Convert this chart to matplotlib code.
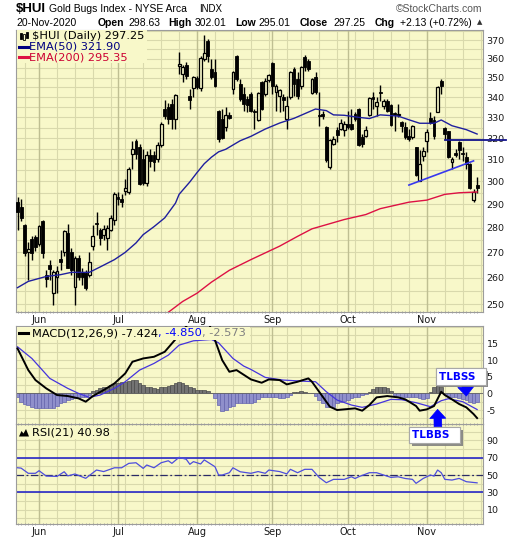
import numpy as np
import pandas as pd
import matplotlib
matplotlib.use("Agg")
import matplotlib.pyplot as plt
import matplotlib.patheffects as pe
from matplotlib.lines import Line2D
from matplotlib.patches import Rectangle, Polygon
from matplotlib.ticker import FixedLocator, FuncFormatter, NullLocator, NullFormatter

# ---------------------------------------------------------------- sessions
market_holidays = ["2020-05-25", "2020-07-03", "2020-09-07"]
dates = pd.bdate_range("2020-05-21", "2020-11-20", freq="C", holidays=market_holidays)

# ---------------------------------------------------------------- $HUI daily OHLC
opens = [290.8, 288.7, 281.0, 270.3, 275.6, 276.4, 273.5, 282.7, 261.2, 265.1,
         254.3, 260.4, 267.5, 270.3, 278.0, 270.3, 256.5, 267.9, 262.3, 261.9,
         261.2, 272.7, 282.2, 279.3, 277.2, 276.0, 279.3, 283.1, 293.0, 292.1,
         295.6, 295.2, 312.4, 318.5, 315.6, 310.1, 299.2, 311.9, 311.9, 310.1,
         316.6, 334.1, 335.1, 336.6, 329.2, 356.2, 352.0, 356.7, 340.6, 344.7,
         349.9, 344.7, 360.0, 369.8, 354.6, 353.0, 333.1, 329.2, 325.3, 331.1,
         344.2, 361.6, 346.8, 341.7, 339.1, 341.7, 333.1, 328.7, 347.8, 341.7,
         348.9, 357.8, 342.7, 340.6, 340.1, 329.2, 340.1, 354.6, 349.4, 345.7,
         361.1, 358.9, 342.2, 350.4, 331.1, 331.6, 325.3, 306.4, 317.1, 323.8,
         324.3, 323.8, 326.7, 326.7, 331.6, 334.1, 320.5, 320.9, 331.1, 340.1,
         335.6, 342.7, 335.6, 338.1, 336.1, 332.1, 331.1, 327.7, 325.3, 320.9,
         320.5, 315.6, 300.1, 311.5, 318.5, 329.7, 328.7, 332.6, 348.4, 324.8,
         323.4, 308.7, 312.8, 318.0, 312.8, 311.0, 307.8, 291.7, 298.63]
highs = [293.0, 292.1, 281.8, 274.0, 276.8, 277.2, 281.4, 283.5, 263.1, 267.1,
         263.1, 264.7, 271.1, 279.3, 281.8, 271.9, 268.7, 269.1, 263.9, 263.1,
         270.3, 281.4, 286.5, 280.1, 281.4, 281.0, 285.6, 295.2, 295.2, 294.3,
         301.0, 306.4, 318.5, 319.5, 317.1, 314.7, 313.7, 314.7, 313.7, 318.0,
         327.7, 338.6, 337.1, 339.1, 341.7, 363.8, 356.7, 358.4, 344.2, 350.9,
         350.9, 361.7, 373.1, 370.9, 360.0, 360.0, 333.6, 334.1, 335.1, 332.6,
         353.5, 362.2, 349.4, 345.2, 340.6, 342.7, 334.1, 342.7, 348.4, 349.9,
         352.0, 358.4, 346.8, 344.2, 341.7, 340.6, 353.5, 355.7, 353.0, 356.2,
         362.2, 360.0, 349.9, 353.0, 342.7, 333.1, 325.8, 319.5, 320.9, 325.3,
         329.2, 328.2, 333.1, 334.1, 332.6, 334.6, 321.9, 325.8, 340.1, 342.7,
         340.1, 346.3, 339.1, 339.1, 336.6, 332.6, 336.6, 328.2, 327.7, 324.3,
         326.2, 315.6, 314.2, 315.6, 324.3, 332.6, 330.6, 345.7, 349.4, 325.3,
         323.4, 311.0, 314.7, 318.5, 315.6, 313.3, 308.2, 296.5, 302.01]
lows = [279.3, 282.7, 268.7, 259.2, 267.1, 270.7, 272.7, 267.9, 256.5, 259.2,
        249.7, 254.3, 263.1, 268.7, 263.9, 261.2, 249.7, 259.2, 257.3, 255.4,
        260.4, 271.1, 277.2, 273.1, 275.2, 271.1, 278.5, 281.4, 289.9, 288.7,
        293.9, 294.3, 305.5, 310.1, 298.4, 298.4, 297.9, 306.4, 304.6, 308.7,
        315.6, 329.2, 326.7, 324.3, 324.3, 352.0, 347.8, 349.4, 334.1, 340.1,
        344.2, 343.2, 358.9, 358.4, 349.4, 345.2, 318.0, 319.5, 323.4, 329.2,
        341.7, 348.4, 338.1, 333.1, 332.6, 332.6, 324.3, 328.2, 333.6, 340.6,
        347.8, 341.7, 333.1, 332.6, 333.1, 324.3, 339.1, 340.6, 339.1, 344.2,
        353.5, 353.5, 341.7, 341.7, 325.8, 329.2, 308.7, 305.5, 316.6, 318.0,
        323.8, 320.9, 324.3, 323.8, 328.2, 316.2, 315.6, 320.5, 330.6, 334.1,
        330.6, 338.1, 334.1, 332.6, 325.8, 323.4, 330.1, 322.9, 319.5, 318.5,
        319.5, 302.3, 300.1, 309.2, 313.3, 326.7, 319.5, 332.6, 341.7, 319.5,
        310.5, 305.5, 311.0, 310.1, 309.2, 305.5, 296.5, 290.8, 295.01]
closes = [286.5, 284.3, 269.9, 271.5, 269.9, 272.3, 280.6, 269.9, 259.6, 263.5,
          262.3, 262.7, 266.3, 278.5, 263.9, 263.1, 267.9, 260.4, 260.4, 256.1,
          266.3, 276.8, 281.8, 276.0, 279.7, 280.1, 284.3, 294.3, 292.1, 290.8,
          297.0, 305.5, 314.7, 312.4, 298.8, 299.2, 311.9, 309.2, 308.7, 316.6,
          326.7, 330.6, 329.2, 329.2, 341.2, 357.3, 355.7, 351.0, 338.6, 350.4,
          345.2, 360.5, 363.2, 361.6, 350.4, 345.7, 319.5, 320.0, 331.1, 329.7,
          353.0, 349.4, 339.1, 336.6, 336.1, 333.1, 332.6, 342.2, 334.1, 348.4,
          351.5, 345.7, 345.7, 343.7, 338.6, 335.6, 353.0, 346.8, 340.6, 355.7,
          355.7, 354.6, 349.4, 342.7, 330.6, 330.6, 309.6, 319.0, 319.5, 321.4,
          327.2, 326.7, 325.3, 324.3, 329.2, 316.6, 317.1, 323.8, 339.6, 339.1,
          337.6, 342.2, 338.1, 333.1, 326.2, 331.1, 331.6, 325.8, 320.5, 319.5,
          325.8, 302.7, 307.8, 313.7, 322.9, 327.2, 320.9, 345.2, 345.7, 321.9,
          311.0, 310.1, 311.9, 314.2, 312.4, 307.8, 297.0, 295.12, 297.25]

# ---------------------------------------------------------------- moving averages
ema50_dates = ["2020-05-21", "2020-05-27", "2020-06-03", "2020-06-09", "2020-06-12",
               "2020-06-19", "2020-06-24", "2020-06-30", "2020-07-06", "2020-07-09",
               "2020-07-13", "2020-07-16", "2020-07-21", "2020-07-24", "2020-07-27",
               "2020-07-30", "2020-08-03", "2020-08-05", "2020-08-07", "2020-08-11",
               "2020-08-13", "2020-08-19", "2020-08-24", "2020-08-28", "2020-09-03",
               "2020-09-10", "2020-09-18", "2020-09-23", "2020-09-25", "2020-09-30",
               "2020-10-06", "2020-10-09", "2020-10-14", "2020-10-21", "2020-10-26",
               "2020-10-29", "2020-11-04", "2020-11-06", "2020-11-11", "2020-11-17",
               "2020-11-20"]
ema50_vals = [256.2, 258.6, 260.5, 261.2, 262.1, 262.1, 264.2, 267.1, 270.0, 273.8,
              277.2, 280.5, 284.2, 290.5, 294.3, 299.8, 304.0, 308.0, 311.0, 313.5,
              314.7, 318.7, 320.8, 324.3, 327.2, 329.5, 334.1, 333.3, 331.2, 331.0,
              330.0, 329.4, 331.2, 330.6, 328.8, 327.1, 327.1, 328.7, 325.9, 324.0,
              321.90]

ema200_dates = ["2020-07-22", "2020-07-28", "2020-08-03", "2020-08-07", "2020-08-14",
                "2020-08-24", "2020-09-03", "2020-09-11", "2020-09-17", "2020-09-30",
                "2020-10-08", "2020-10-14", "2020-10-26", "2020-11-02", "2020-11-09",
                "2020-11-13", "2020-11-20"]
ema200_vals = [247.0, 251.0, 254.1, 258.3, 262.9, 267.1, 272.5, 276.5, 279.6, 283.5,
               285.6, 288.1, 290.9, 291.8, 294.3, 295.0, 295.35]

# drawn trend lines
support_dates = ["2020-10-26", "2020-11-19"]
support_vals = [298.4, 309.3]
resistance_from = "2020-11-09"
resistance_level = 319.0

# ---------------------------------------------------------------- MACD(12,26,9)
macd_dates = ["2020-05-21", "2020-05-27", "2020-05-29", "2020-06-03", "2020-06-08",
              "2020-06-11", "2020-06-16", "2020-06-18", "2020-06-22", "2020-06-25",
              "2020-06-30", "2020-07-06", "2020-07-08", "2020-07-13", "2020-07-16",
              "2020-07-21", "2020-07-23", "2020-07-27", "2020-07-30", "2020-08-04",
              "2020-08-06", "2020-08-10", "2020-08-12", "2020-08-14", "2020-08-18",
              "2020-08-24", "2020-08-27", "2020-08-31", "2020-09-03", "2020-09-08",
              "2020-09-11", "2020-09-16", "2020-09-17", "2020-09-22", "2020-09-24",
              "2020-09-28", "2020-10-01", "2020-10-05", "2020-10-07", "2020-10-09",
              "2020-10-13", "2020-10-16", "2020-10-21", "2020-10-23", "2020-10-28",
              "2020-10-29", "2020-11-02", "2020-11-04", "2020-11-06", "2020-11-09",
              "2020-11-11", "2020-11-13", "2020-11-17", "2020-11-19", "2020-11-20"]
macd_vals = [13.5, 7.0, 4.0, 1.5, -0.5, -0.8, -1.5, -2.5, -0.8, 1.0,
             3.0, 6.0, 9.5, 10.5, 11.0, 12.5, 15.0, 17.5, 21.5, 23.0,
             22.0, 16.0, 10.0, 6.5, 7.0, 4.2, 3.2, 4.2, 4.0, 2.7,
             3.5, 4.5, 3.5, -1.0, -4.0, -5.0, -4.7, -4.5, -5.2, -3.5,
             -1.2, -0.8, -1.2, -1.8, -3.8, -5.2, -4.8, -3.8, 0.5, -0.5,
             -1.8, -3.2, -4.2, -6.2, -7.424]

signal_dates = ["2020-05-21", "2020-05-28", "2020-06-04", "2020-06-11", "2020-06-16",
                "2020-06-19", "2020-06-24", "2020-06-30", "2020-07-06", "2020-07-10",
                "2020-07-16", "2020-07-22", "2020-07-27", "2020-07-31", "2020-08-07",
                "2020-08-11", "2020-08-17", "2020-08-20", "2020-08-24", "2020-08-28",
                "2020-09-04", "2020-09-14", "2020-09-18", "2020-09-23", "2020-09-28",
                "2020-10-02", "2020-10-07", "2020-10-13", "2020-10-19", "2020-10-22",
                "2020-10-28", "2020-11-03", "2020-11-06", "2020-11-10", "2020-11-16",
                "2020-11-20"]
signal_vals = [14.0, 10.5, 4.5, 1.5, 0.0, -1.2, -0.5, 1.5, 3.5, 7.0,
               9.0, 11.5, 14.5, 15.8, 16.2, 15.2, 10.5, 8.2, 7.2, 4.8,
               4.0, 3.7, 3.5, 0.5, -2.0, -3.5, -4.2, -3.2, -1.8, -1.9,
               -2.8, -4.0, -2.2, -1.6, -2.5, -4.850]

macd_hist = [-1.2, -2.5, -3.2, -3.5, -4.0, -4.5, -4.5, -4.5, -4.5, -4.5,
             -4.3, -3.8, -3.0, -2.5, -2.0, -1.8, -1.5, -1.3, -1.2, -1.0,
             -0.5, 0.8, 1.0, 1.5, 2.0, 2.0, 2.5, 3.0, 3.0, 3.5,
             3.5, 3.8, 4.0, 4.0, 3.0, 2.5, 2.0, 2.0, 1.5, 1.3,
             1.8, 2.0, 2.2, 2.5, 3.0, 3.3, 3.2, 2.5, 2.0, 1.5,
             1.0, 1.0, 1.0, 0.8, 0.2, -1.5, -3.5, -5.2, -5.0, -4.2,
             -3.8, -3.0, -2.8, -2.8, -2.8, -2.8, -2.5, -1.8, -1.2, -1.0,
             -1.0, -1.0, -1.2, -1.5, -1.5, -1.0, -0.5, 0.3, 0.5, 0.8,
             0.5, 0.2, 0.1, -0.8, -2.0, -3.0, -4.0, -4.2, -4.0, -3.0,
             -2.5, -2.2, -2.0, -1.5, -1.2, -1.0, -0.5, -0.3, 0.5, 1.2,
             1.8, 2.0, 2.0, 1.5, 0.8, -0.5, -1.0, -1.0, -1.0, -1.2,
             -1.2, -1.2, -1.5, -1.8, -1.5, 0.5, 2.0, 2.5, 2.0, -0.3,
             -0.8, -1.2, -1.2, -1.5, -1.8, -2.0, -2.5, -2.8, -2.573]

# ---------------------------------------------------------------- RSI(21)
rsi_dates = ["2020-05-21", "2020-05-22", "2020-05-27", "2020-05-29", "2020-06-01",
             "2020-06-03", "2020-06-08", "2020-06-10", "2020-06-11", "2020-06-15",
             "2020-06-18", "2020-06-23", "2020-06-25", "2020-06-30", "2020-07-02",
             "2020-07-07", "2020-07-09", "2020-07-13", "2020-07-14", "2020-07-16",
             "2020-07-20", "2020-07-22", "2020-07-23", "2020-07-27", "2020-07-29",
             "2020-07-30", "2020-07-31", "2020-08-04", "2020-08-05", "2020-08-10",
             "2020-08-11", "2020-08-12", "2020-08-14", "2020-08-17", "2020-08-19",
             "2020-08-24", "2020-08-26", "2020-08-28", "2020-08-31", "2020-09-03",
             "2020-09-08", "2020-09-09", "2020-09-11", "2020-09-15", "2020-09-17",
             "2020-09-21", "2020-09-23", "2020-09-25", "2020-09-30", "2020-10-02",
             "2020-10-05", "2020-10-06", "2020-10-09", "2020-10-13", "2020-10-15",
             "2020-10-19", "2020-10-21", "2020-10-23", "2020-10-27", "2020-10-28",
             "2020-10-30", "2020-11-03", "2020-11-04", "2020-11-05", "2020-11-06",
             "2020-11-09", "2020-11-11", "2020-11-13", "2020-11-17", "2020-11-20"]
rsi_vals = [58.4, 58.0, 52.0, 52.0, 55.0, 48.8, 48.4, 53.8, 49.0, 51.2,
            46.2, 55.8, 54.0, 58.4, 58.4, 63.5, 64.2, 57.7, 61.6, 58.4,
            64.2, 66.5, 63.5, 70.5, 68.2, 62.4, 65.5, 62.8, 67.5, 59.6,
            50.0, 50.0, 52.7, 58.4, 53.8, 52.0, 54.0, 52.0, 55.8, 54.0,
            51.3, 56.6, 52.7, 56.6, 56.6, 47.3, 41.1, 45.0, 45.0, 48.0,
            46.0, 48.0, 52.7, 52.7, 50.0, 47.3, 48.0, 46.0, 45.0, 40.4,
            46.1, 50.0, 48.8, 55.8, 52.7, 45.0, 44.2, 46.1, 42.3, 40.98]

# ---------------------------------------------------------------- labels
symbol = r"\$HUI"
index_name = "Gold Bugs Index - NYSE Arca"
exchange = "INDX"
month_names = ["Jun", "Jul", "Aug", "Sep", "Oct", "Nov"]
price_ticks = list(range(250, 371, 10))
macd_ticks = [-5, 0, 5, 10, 15]
rsi_ticks = [10, 30, 50, 70, 90]

# ---------------------------------------------------------------- styling
W, H, DPI = 520, 540, 100
BG = "#F8F8C9"
GRID = "#D9D9AC"
MGRID = "#BFBF92"
FRAME = "#9C9C9C"
EMA50_C = "#1F1F9E"
EMA200_C = "#DD1144"
HDR = "Liberation Sans"
LEG = 8.2
plt.rcParams["font.family"] = ["DejaVu Sans"]

fig = plt.figure(figsize=(W / DPI, H / DPI), dpi=DPI, facecolor="white")


def frame(l, t, r, b):
    return [l / W, 1 - b / H, (r - l) / W, (b - t) / H]


def fx(x):
    return x / W


def fy(y):
    return 1 - y / H


ax = fig.add_axes(frame(16, 29.5, 482.5, 312))
axr = fig.add_axes(frame(16, 424, 482.5, 524))
axm = fig.add_axes(frame(16, 325.5, 482.5, 424))

n = len(dates)
xs = np.arange(n)
day = {d.strftime("%Y-%m-%d"): i for i, d in enumerate(dates)}


def at(ds):
    return np.array([day[d] for d in ds], dtype=float)


month_starts = [i for i in range(1, n) if dates[i].month != dates[i - 1].month]
week_starts = [i for i in range(1, n)
               if dates[i].isocalendar()[1] != dates[i - 1].isocalendar()[1]]
week_starts.append(n)  # the Monday after the last session

XMIN, XMAX = -0.42, n + 0.5
for a in (ax, axm, axr):
    a.set_facecolor(BG)
    a.set_xlim(XMIN, XMAX)
    for w in week_starts:
        a.axvline(w, color=GRID, lw=0.8, zorder=0.6)
    for m in month_starts:
        a.axvline(m, color=MGRID, lw=1.0, zorder=0.7)
    for s in a.spines.values():
        s.set_color(FRAME)
        s.set_linewidth(0.8)
    a.yaxis.tick_right()
    a.tick_params(axis="y", which="major", length=0, pad=3, labelsize=6.8,
                  labelcolor="#1a1a1a")
    a.set_xticks(xs, minor=True)
    a.tick_params(axis="x", which="minor", length=2, width=0.6, color="#9a9a9a",
                  direction="inout")
    a.set_xticks(month_starts)
    a.tick_params(axis="x", which="major", length=0, pad=2.5, labelsize=7,
                  labelcolor="#1a1a1a")

ax.set_xticklabels(month_names)
axr.set_xticklabels(month_names)
axm.tick_params(axis="x", which="major", labelbottom=False)

# ---------------------------------------------------------------- price panel
ax.set_yscale("log")
ax.set_ylim(247.1, 376.0)
ax.yaxis.set_major_locator(FixedLocator(price_ticks))
ax.yaxis.set_major_formatter(FuncFormatter(lambda v, p: f"{v:.0f}"))
ax.yaxis.set_minor_locator(NullLocator())
ax.yaxis.set_minor_formatter(NullFormatter())
for v in np.arange(245, 380, 5):
    ax.axhline(v, color=GRID, lw=0.8, zorder=0.6)

o, h, l, c = (np.array(v, dtype=float) for v in (opens, highs, lows, closes))
rising = c >= o
body_lo = np.minimum(o, c)
body_h = np.maximum(np.abs(c - o), 0.35)
ax.vlines(xs, l, h, color="black", lw=1.0, zorder=3)
ax.bar(xs[~rising], body_h[~rising], bottom=body_lo[~rising], width=0.8,
       color="black", edgecolor="black", lw=0.6, zorder=4)
ax.bar(xs[rising], body_h[rising], bottom=body_lo[rising], width=0.8,
       color=BG, edgecolor="black", lw=0.9, zorder=4)

ax.plot(at(ema50_dates), ema50_vals, color=EMA50_C, lw=1.0, zorder=5)
ax.plot(at(ema200_dates), ema200_vals, color=EMA200_C, lw=1.0, zorder=5)
ax.plot(at(support_dates), support_vals, color="#3838EE", lw=1.2, zorder=6)
ax.plot([day[resistance_from], XMAX + 6.5], [resistance_level] * 2, color="#12128C",
        lw=1.3, zorder=6, clip_on=False)

# ---------------------------------------------------------------- MACD panel
axm.set_ylim(-9.2, 20.4)
axm.yaxis.set_major_locator(FixedLocator(macd_ticks))
axm.yaxis.set_major_formatter(FuncFormatter(lambda v, p: f"{v:.0f}"))
for v in np.arange(-7.5, 20.1, 2.5):
    axm.axhline(v, color=GRID, lw=0.8, zorder=0.6)
hist = np.array(macd_hist)
pos_bar = hist >= 0
axm.bar(xs, hist, width=1.0, color=np.where(pos_bar, "#737373", "#8F8FCB"),
        edgecolor=np.where(pos_bar, "#4a4a4a", "#6464AE"), lw=0.5, zorder=2)
axm.axhline(0, color="#666666", lw=0.6, zorder=2.5)
axm.plot(at(signal_dates), signal_vals, color="#4433DD", lw=0.9, zorder=3)
axm.plot(at(macd_dates), macd_vals, color="black", lw=1.4, zorder=4)


def callout(text, date, value, dx, dy, relpos):
    ann = axm.annotate(
        text + "  ", xy=(day[date], value), xytext=(dx, dy), textcoords="offset pixels",
        ha="left", va="center", fontsize=7.5, fontweight="bold", color="#0000FF",
        bbox=dict(boxstyle="square,pad=0.3", fc="white", ec="#A8A8A8", lw=0.8),
        arrowprops=dict(arrowstyle="simple,head_length=0.65,head_width=1.15,tail_width=0.55",
                        mutation_scale=10, fc="#0000FF", ec="#0000FF", lw=0.5,
                        relpos=relpos, shrinkA=0, shrinkB=0),
        annotation_clip=False, zorder=8)
    ann.get_bbox_patch().set_path_effects(
        [pe.withSimplePatchShadow(offset=(2, -2), shadow_rgbFace="#808080", alpha=0.9),
         pe.Normal()])


callout("TLBBS", "2020-11-05", -4.8, -25.5, -26, (0.58, 1.0))
callout("TLBSS", "2020-11-17", -0.8, -27.5, 19.5, (0.61, 0.0))

# ---------------------------------------------------------------- RSI panel
axr.set_ylim(-6.6, 109)
axr.yaxis.set_major_locator(FixedLocator(rsi_ticks))
axr.yaxis.set_major_formatter(FuncFormatter(lambda v, p: f"{v:.0f}"))
for v in range(0, 101, 10):
    axr.axhline(v, color=GRID, lw=0.8, zorder=0.6)
axr.axhline(70, color="#1818C8", lw=1.1, zorder=2)
axr.axhline(30, color="#1818C8", lw=1.1, zorder=2)
axr.axhline(50, color="#2a2a66", lw=0.9, ls=(0, (6, 2, 1.5, 2)), zorder=2)
axr.plot(at(rsi_dates), rsi_vals, color="#4D4DDD", lw=0.9, zorder=3)

# ---------------------------------------------------------------- header
last = dates[-1].strftime("%d-%b-%Y")
chg = c[-1] - c[-2]
pct = chg / c[-2] * 100

fig.text(fx(16), fy(9), symbol, fontsize=9.5, fontweight="bold", family=HDR, va="center")
fig.text(fx(49), fy(9.5), index_name, fontsize=7.5, family=HDR, va="center")
fig.text(fx(199), fy(9.5), exchange, fontsize=7, family=HDR, va="center")
fig.text(fx(482), fy(9.5), "\u00a9StockCharts.com", fontsize=7.5, family=HDR,
         va="center", ha="right", color="#555555")

fig.text(fx(16), fy(22.5), last, fontsize=7.5, family=HDR, va="center")
quote = [(98, "Open", True), (128, f"{o[-1]:.2f}", False),
         (168, "High", True), (195, f"{h[-1]:.2f}", False),
         (235, "Low", True), (258, f"{l[-1]:.2f}", False),
         (300, "Close", True), (333, f"{c[-1]:.2f}", False),
         (375, "Chg", True), (400, f"{chg:+.2f} ({pct:+.2f}%)", False)]
for x, s, bold in quote:
    fig.text(fx(x), fy(22.5), s, fontsize=7.5, family=HDR, va="center",
             fontweight="bold" if bold else "normal")
fig.text(fx(476.5), fy(22.5), "\u25b2", fontsize=5, va="center", color="#333333")

# ---------------------------------------------------------------- panel legends
def px_rect(x0, y0, x1, y1, **kw):
    fig.add_artist(Rectangle((fx(x0), fy(y1)), (x1 - x0) / W, (y1 - y0) / H,
                             transform=fig.transFigure, **kw))


def px_line(x0, x1, y, **kw):
    fig.add_artist(Line2D([fx(x0), fx(x1)], [fy(y), fy(y)],
                          transform=fig.transFigure, **kw))


px_rect(17, 30.3, 147, 63, fc=BG, ec="none", zorder=1)
px_rect(17, 327, 250, 339.5, fc=BG, ec="none", zorder=1)
px_rect(17, 425.5, 114, 439, fc=BG, ec="none", zorder=1)

# candle glyph
for x0, y0, y1, filled in [(19.5, 33, 39, True), (22.5, 34.5, 39.5, False),
                           (25.5, 32, 37.5, True)]:
    px_rect(x0, y0, x0 + 2.2, y1, fc="black" if filled else BG, ec="black",
            lw=0.6, zorder=2)

fig.text(fx(32), fy(35.7), rf"\$HUI (Daily) {c[-1]:.2f}", fontsize=LEG, va="center",
         zorder=3)
px_line(19, 28, 46.7, color="#000080", lw=2.2, zorder=2)
fig.text(fx(29), fy(46.7), f"EMA(50) {ema50_vals[-1]:.2f}", fontsize=LEG, va="center",
         color="#000080", zorder=3)
px_line(19, 28, 57.3, color=EMA200_C, lw=2.2, zorder=2)
fig.text(fx(29), fy(57.3), f"EMA(200) {ema200_vals[-1]:.2f}", fontsize=LEG, va="center",
         color="#CC0033", zorder=3)

px_line(19, 28, 333.3, color="black", lw=2.2, zorder=2)
renderer = fig.canvas.get_renderer()
xcur = 31.7
for s, col in [(f"MACD(12,26,9) {macd_vals[-1]:.3f}", "black"),
               (f", {signal_vals[-1]:.3f}", "#0000FF"),
               (f", {macd_hist[-1]:.3f}", "#808080")]:
    t = fig.text(fx(xcur), fy(333.3), s, fontsize=LEG, va="center", color=col, zorder=3)
    xcur += t.get_window_extent(renderer=renderer).width

fig.add_artist(Polygon([(fx(19), fy(436.5)), (fx(21.5), fy(431)), (fx(23.5), fy(433.5)),
                        (fx(26), fy(429)), (fx(29), fy(436.5))],
                       closed=True, transform=fig.transFigure, fc="black", ec="none",
                       zorder=2))
fig.text(fx(32), fy(432.7), f"RSI(21) {rsi_vals[-1]:.2f}", fontsize=LEG, va="center",
         zorder=3)

fig.savefig("out.png", dpi=DPI, facecolor="white")
